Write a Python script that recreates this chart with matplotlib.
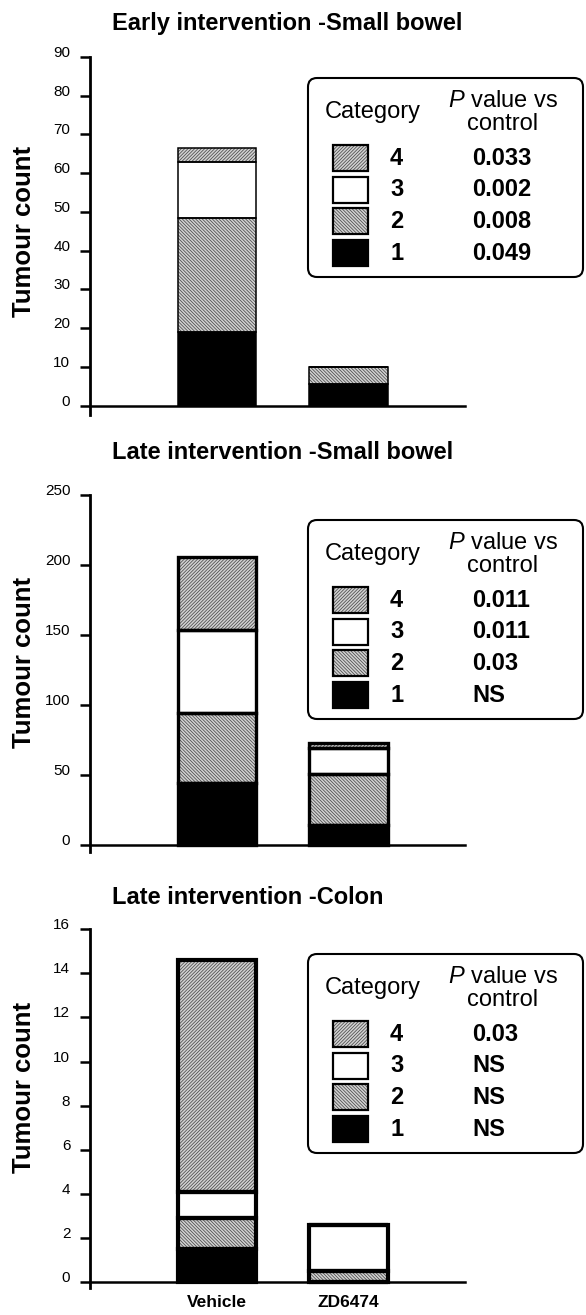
import matplotlib
matplotlib.use('Agg')
import matplotlib.pyplot as plt
from matplotlib.patches import FancyBboxPatch, Rectangle

plt.rcParams['font.family'] = ['Liberation Sans', 'DejaVu Sans']
plt.rcParams['mathtext.fontset'] = 'custom'
plt.rcParams['mathtext.it'] = 'Liberation Sans:italic'
plt.rcParams['mathtext.rm'] = 'Liberation Sans'
plt.rcParams['hatch.linewidth'] = 0.55

# ---------------- data ----------------
groups = ['Vehicle', 'ZD6474']
legend_categories = ['4', '3', '2', '1']
titles = ['Early intervention -Small bowel',
          'Late intervention -Small bowel',
          'Late intervention -Colon']
ylabel = 'Tumour count'

# values per category: [Vehicle, ZD6474]
early_cat1 = [19.0, 5.5]
early_cat2 = [29.5, 4.5]
early_cat3 = [14.5, 0.0]
early_cat4 = [3.5, 0.0]

late_sb_cat1 = [44.0, 14.5]
late_sb_cat2 = [50.0, 36.0]
late_sb_cat3 = [59.5, 19.0]
late_sb_cat4 = [52.5, 3.0]

colon_cat1 = [1.5, 0.0]
colon_cat2 = [1.4, 0.5]
colon_cat3 = [1.2, 2.1]
colon_cat4 = [10.5, 0.0]

# P values listed for categories 4, 3, 2, 1
early_pvals = ['0.033', '0.002', '0.008', '0.049']
late_sb_pvals = ['0.011', '0.011', '0.03', 'NS']
colon_pvals = ['0.03', 'NS', 'NS', 'NS']

early_yticks = [0, 10, 20, 30, 40, 50, 60, 70, 80, 90]
late_sb_yticks = [0, 50, 100, 150, 200, 250]
colon_yticks = [0, 2, 4, 6, 8, 10, 12, 14, 16]

# ---------------- layout ----------------
W, H = 586, 1315
fig = plt.figure(figsize=(W / 100, H / 100), dpi=100)

def px_inch(x, y):
    return x / 100.0, (H - y) / 100.0

HATCH_FACE = '#d2d2d2'
HATCH_LINE = '#4a4a4a'
# style for categories 1..4
styles = {
    '1': dict(face='black', hatch=None),
    '2': dict(face=HATCH_FACE, hatch='\\' * 10),
    '3': dict(face='white', hatch=None),
    '4': dict(face=HATCH_FACE, hatch='/' * 10),
}

panels = [
    dict(title=titles[0], cats=[early_cat1, early_cat2, early_cat3, early_cat4],
         pvals=early_pvals, yticks=early_yticks, ylim=(-2.4, 90),
         top=57, bottom=415, lw=1.1, title_base=30, ylab_y=231, box_top=78,
         xlabels=False),
    dict(title=titles[1], cats=[late_sb_cat1, late_sb_cat2, late_sb_cat3, late_sb_cat4],
         pvals=late_sb_pvals, yticks=late_sb_yticks, ylim=(-5, 250),
         top=495, bottom=852, lw=2.4, title_base=459, ylab_y=662, box_top=520,
         xlabels=False),
    dict(title=titles[2], cats=[colon_cat1, colon_cat2, colon_cat3, colon_cat4],
         pvals=colon_pvals, yticks=colon_yticks, ylim=(-0.25, 16),
         top=929, bottom=1288, lw=3.0, title_base=904, ylab_y=1087, box_top=954,
         xlabels=True),
]

AX_L, AX_R = 90, 465
xpos = [0, 1]
bar_w = 0.6

for p in panels:
    ax = fig.add_axes([AX_L / W, 1 - p['bottom'] / H, (AX_R - AX_L) / W,
                       (p['bottom'] - p['top']) / H])
    ax.set_xlim(-0.966, 1.886)
    ax.set_ylim(*p['ylim'])
    bottoms = [0.0, 0.0]
    for ci, vals in enumerate(p['cats']):
        st = styles[str(ci + 1)]
        ax.bar(xpos, vals, width=bar_w, bottom=bottoms, color=st['face'],
               hatch=st['hatch'], edgecolor=HATCH_LINE if st['hatch'] else st['face'],
               linewidth=0, zorder=2)
        ax.bar(xpos, vals, width=bar_w, bottom=bottoms, fill=False,
               edgecolor='black', linewidth=p['lw'], zorder=3)
        bottoms = [b + v for b, v in zip(bottoms, vals)]

    for s in ['top', 'right']:
        ax.spines[s].set_visible(False)
    ax.spines['left'].set_linewidth(2.0)
    ax.spines['bottom'].set_linewidth(1.8)
    ax.spines['bottom'].set_position(('data', 0))
    ax.spines['bottom'].set_zorder(4)
    ax.set_yticks(p['yticks'])
    ax.set_yticklabels([str(t) for t in p['yticks']])
    ax.tick_params(axis='y', direction='out', length=7.2, width=1.8, pad=7,
                   labelsize=11)
    for lab in ax.get_yticklabels():
        lab.set_verticalalignment('baseline')
    ax.set_xticks(xpos)
    if p['xlabels']:
        ax.set_xticklabels(groups, fontweight='bold', fontsize=12.5)
        ax.tick_params(axis='x', length=0, pad=9)
    else:
        ax.set_xticklabels(['', ''])
        ax.tick_params(axis='x', length=0)
    ax.patch.set_alpha(0)

    # title
    fig.text(112 / W, 1 - p['title_base'] / H, p['title'], fontsize=17,
             fontweight='bold', ha='left', va='baseline')
    # y label
    fig.text(24 / W, 1 - p['ylab_y'] / H, ylabel, rotation=90, fontsize=18.5,
             fontweight='bold', ha='center', va='center')

    # legend box
    T = p['box_top']
    x0, y0 = px_inch(308, T + 199)
    box = FancyBboxPatch((x0, y0), (583 - 308) / 100, 199 / 100,
                         boxstyle='round,pad=0,rounding_size=0.09',
                         transform=fig.dpi_scale_trans, facecolor='white',
                         edgecolor='black', linewidth=1.5, zorder=5)
    fig.add_artist(box)
    tx, ty = px_inch(325, T + 40)
    fig.text(tx, ty, 'Category', transform=fig.dpi_scale_trans, fontsize=17,
             ha='left', va='baseline', zorder=6)
    tx, ty = px_inch(503, T + 29)
    fig.text(tx, ty, r'$\mathit{P}$ value vs', transform=fig.dpi_scale_trans,
             fontsize=17, ha='center', va='baseline', zorder=6)
    tx, ty = px_inch(503, T + 52)
    fig.text(tx, ty, 'control', transform=fig.dpi_scale_trans, fontsize=17,
             ha='center', va='baseline', zorder=6)
    for i, cat in enumerate(legend_categories):
        st = styles[cat]
        top = T + 67 + i * 31.5
        sx, sy = px_inch(333, top + 26)
        if st['hatch']:
            fig.add_artist(Rectangle((sx, sy), 0.35, 0.26, transform=fig.dpi_scale_trans,
                                     facecolor=st['face'], hatch=st['hatch'],
                                     edgecolor=HATCH_LINE, linewidth=0, zorder=6))
        fig.add_artist(Rectangle((sx, sy), 0.35, 0.26, transform=fig.dpi_scale_trans,
                                 facecolor='none' if st['hatch'] else st['face'],
                                 edgecolor='black', linewidth=1.6, zorder=7))
        bx, by = px_inch(390, top + 20)
        fig.text(bx, by, cat, transform=fig.dpi_scale_trans, fontsize=17,
                 fontweight='bold', ha='left', va='baseline', zorder=7)
        bx, by = px_inch(472, top + 20)
        fig.text(bx, by, p['pvals'][i], transform=fig.dpi_scale_trans, fontsize=17,
                 fontweight='bold', ha='left', va='baseline', zorder=7)

fig.savefig('out.png', dpi=100)
